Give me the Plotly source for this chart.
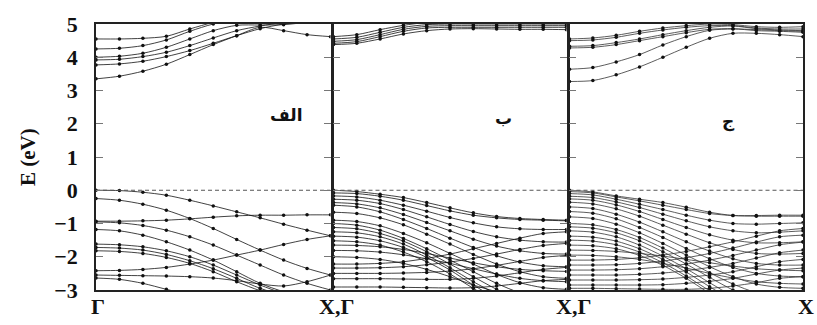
import plotly.graph_objects as go

K = [0.0, 0.1, 0.2, 0.3, 0.4, 0.5, 0.6, 0.7, 0.8, 0.9, 1.0]

# Panel 1 (الف)
P1_COND = [
    [3.35, 3.43, 3.58, 3.79, 4.08, 4.38, 4.65, 4.90, 4.80, 4.68, 4.62],
    [3.77, 3.80, 3.88, 4.02, 4.20, 4.42, 4.65, 4.86, 5.00, 5.10, 5.15],
    [3.92, 3.94, 4.02, 4.15, 4.35, 4.58, 4.80, 4.94, 5.05, 5.15, 5.20],
    [4.00, 4.03, 4.12, 4.30, 4.55, 4.80, 4.96, 4.97, 4.98, 5.05, 5.10],
    [4.25, 4.27, 4.35, 4.52, 4.78, 5.00, 5.12, 5.20, 5.20, 5.20, 5.20],
    [4.55, 4.55, 4.57, 4.63, 4.85, 5.05, 5.20, 5.25, 5.25, 5.25, 5.25],
]
P1_VAL = [
    [0.00, -0.01, -0.06, -0.15, -0.30, -0.47, -0.65, -0.83, -1.02, -1.20, -1.37],
    [-0.25, -0.30, -0.42, -0.60, -0.85, -1.15, -1.48, -1.80, -2.10, -2.35, -2.55],
    [-0.93, -0.93, -0.92, -0.90, -0.86, -0.81, -0.77, -0.75, -0.75, -0.74, -0.74],
    [-0.95, -0.98, -1.06, -1.20, -1.40, -1.65, -1.95, -2.25, -2.55, -2.80, -3.00],
    [-1.18, -1.22, -1.35, -1.55, -1.80, -2.10, -2.45, -2.80, -3.05, -3.20, -3.30],
    [-1.62, -1.64, -1.70, -1.82, -2.00, -2.25, -2.55, -2.85, -3.10, -3.20, -3.30],
    [-1.72, -1.74, -1.80, -1.93, -2.12, -2.36, -2.65, -2.95, -3.15, -3.25, -3.30],
    [-1.82, -1.84, -1.90, -2.02, -2.20, -2.45, -2.75, -3.02, -3.20, -3.30, -3.30],
    [-2.42, -2.41, -2.38, -2.32, -2.22, -2.10, -1.95, -1.80, -1.63, -1.48, -1.37],
    [-2.55, -2.56, -2.57, -2.58, -2.60, -2.64, -2.72, -2.82, -2.88, -2.75, -2.55],
    [-2.64, -2.68, -2.80, -2.98, -3.15, -3.30, -3.40, -3.40, -3.40, -3.40, -3.40],
]

# Panel 2 (ب)
P2_COND = [
    [4.38, 4.42, 4.55, 4.70, 4.80, 4.85, 4.86, 4.85, 4.84, 4.84, 4.83],
    [4.42, 4.47, 4.62, 4.78, 4.88, 4.90, 4.90, 4.90, 4.90, 4.90, 4.90],
    [4.48, 4.53, 4.68, 4.84, 4.93, 4.95, 4.95, 4.95, 4.95, 4.95, 4.95],
    [4.55, 4.60, 4.75, 4.90, 4.98, 5.00, 5.00, 5.00, 5.00, 5.00, 5.00],
    [4.62, 4.68, 4.83, 4.96, 5.05, 5.10, 5.10, 5.10, 5.10, 5.10, 5.10],
]
P2_VAL = [
    [0.00, -0.04, -0.12, -0.22, -0.37, -0.53, -0.68, -0.79, -0.85, -0.88, -0.90],
    [-0.08, -0.10, -0.18, -0.30, -0.46, -0.62, -0.75, -0.83, -0.88, -0.90, -0.92],
    [-0.17, -0.20, -0.30, -0.45, -0.63, -0.82, -0.98, -1.10, -1.16, -1.18, -1.18],
    [-0.27, -0.30, -0.40, -0.58, -0.80, -1.03, -1.24, -1.40, -1.50, -1.55, -1.56],
    [-0.37, -0.41, -0.53, -0.73, -0.97, -1.22, -1.47, -1.68, -1.82, -1.90, -1.92],
    [-0.45, -0.50, -0.65, -0.88, -1.15, -1.44, -1.72, -1.97, -2.16, -2.27, -2.30],
    [-0.66, -0.70, -0.83, -1.04, -1.32, -1.62, -1.93, -2.22, -2.45, -2.60, -2.65],
    [-0.90, -0.94, -1.07, -1.30, -1.58, -1.90, -2.22, -2.53, -2.78, -2.93, -2.98],
    [-1.00, -1.05, -1.20, -1.45, -1.76, -2.10, -2.45, -2.80, -3.08, -3.20, -3.22],
    [-1.12, -1.16, -1.30, -1.53, -1.85, -2.22, -2.60, -2.98, -3.30, -3.40, -3.40],
    [-1.25, -1.28, -1.40, -1.62, -1.95, -2.33, -2.75, -3.12, -3.40, -3.45, -3.45],
    [-1.38, -1.41, -1.52, -1.72, -2.02, -2.40, -2.85, -3.25, -3.50, -3.50, -3.50],
    [-1.52, -1.55, -1.65, -1.86, -2.15, -2.52, -2.95, -3.35, -3.50, -3.50, -3.50],
    [-1.65, -1.66, -1.70, -1.78, -1.90, -2.04, -2.18, -2.30, -2.38, -2.42, -2.44],
    [-1.81, -1.82, -1.86, -1.94, -2.06, -2.20, -2.36, -2.52, -2.65, -2.72, -2.75],
    [-2.00, -2.02, -2.08, -2.20, -2.38, -2.60, -2.85, -3.05, -3.20, -3.30, -3.30],
    [-2.22, -2.22, -2.20, -2.15, -2.05, -1.92, -1.76, -1.60, -1.44, -1.30, -1.25],
    [-2.34, -2.34, -2.33, -2.30, -2.24, -2.16, -2.05, -1.92, -1.78, -1.66, -1.60],
    [-2.50, -2.50, -2.50, -2.49, -2.47, -2.43, -2.36, -2.26, -2.14, -2.02, -1.96],
    [-2.66, -2.66, -2.66, -2.67, -2.68, -2.68, -2.65, -2.58, -2.48, -2.38, -2.32],
    [-2.91, -2.91, -2.91, -2.92, -2.93, -2.94, -2.93, -2.88, -2.80, -2.72, -2.68],
]

# Panel 3 (ج)
P3_COND = [
    [4.50, 4.52, 4.60, 4.72, 4.82, 4.90, 4.95, 4.95, 4.88, 4.85, 4.85],
    [4.55, 4.58, 4.66, 4.78, 4.88, 4.95, 5.00, 4.98, 4.92, 4.90, 4.92],
    [4.33, 4.35, 4.44, 4.55, 4.68, 4.80, 4.90, 4.94, 4.86, 4.82, 4.80],
    [4.28, 4.30, 4.38, 4.50, 4.62, 4.74, 4.84, 4.86, 4.80, 4.78, 4.75],
    [3.64, 3.69, 3.86, 4.08, 4.37, 4.62, 4.81, 4.85, 4.83, 4.80, 4.78],
    [3.27, 3.30, 3.47, 3.71, 4.00, 4.30, 4.57, 4.72, 4.72, 4.68, 4.62],
]
P3_VAL = [
    [0.00, -0.05, -0.17, -0.27, -0.37, -0.51, -0.66, -0.76, -0.78, -0.78, -0.78],
    [-0.04, -0.08, -0.20, -0.32, -0.45, -0.58, -0.70, -0.76, -0.76, -0.75, -0.75],
    [-0.10, -0.14, -0.27, -0.42, -0.58, -0.75, -0.90, -1.00, -1.02, -1.00, -0.98],
    [-0.18, -0.22, -0.35, -0.52, -0.72, -0.92, -1.10, -1.22, -1.28, -1.26, -1.22],
    [-0.26, -0.30, -0.44, -0.64, -0.88, -1.12, -1.34, -1.50, -1.58, -1.58, -1.55],
    [-0.36, -0.41, -0.56, -0.78, -1.05, -1.32, -1.58, -1.78, -1.90, -1.92, -1.90],
    [-0.50, -0.55, -0.72, -0.96, -1.25, -1.55, -1.83, -2.06, -2.20, -2.25, -2.25],
    [-0.64, -0.69, -0.86, -1.12, -1.42, -1.75, -2.06, -2.32, -2.50, -2.58, -2.60],
    [-0.80, -0.85, -1.02, -1.28, -1.60, -1.95, -2.30, -2.60, -2.82, -2.92, -2.95],
    [-1.00, -1.04, -1.18, -1.42, -1.74, -2.10, -2.48, -2.82, -3.08, -3.20, -3.25],
    [-1.10, -1.14, -1.28, -1.52, -1.85, -2.22, -2.62, -3.00, -3.30, -3.40, -3.40],
    [-1.22, -1.26, -1.40, -1.65, -1.98, -2.36, -2.78, -3.18, -3.45, -3.50, -3.50],
    [-1.38, -1.41, -1.53, -1.76, -2.08, -2.46, -2.90, -3.30, -3.50, -3.50, -3.50],
    [-1.50, -1.53, -1.64, -1.86, -2.18, -2.58, -3.02, -3.40, -3.50, -3.50, -3.50],
    [-1.65, -1.67, -1.76, -1.96, -2.26, -2.65, -3.10, -3.50, -3.50, -3.50, -3.50],
    [-1.80, -1.81, -1.84, -1.90, -1.98, -2.08, -2.18, -2.28, -2.36, -2.40, -2.42],
    [-1.95, -1.96, -2.00, -2.08, -2.20, -2.34, -2.50, -2.64, -2.75, -2.80, -2.82],
    [-2.10, -2.10, -2.08, -2.03, -1.95, -1.84, -1.70, -1.55, -1.38, -1.22, -1.15],
    [-2.25, -2.25, -2.24, -2.20, -2.13, -2.03, -1.90, -1.74, -1.56, -1.40, -1.35],
    [-2.40, -2.40, -2.39, -2.36, -2.30, -2.22, -2.10, -1.96, -1.80, -1.64, -1.56],
    [-2.55, -2.55, -2.55, -2.53, -2.49, -2.42, -2.32, -2.20, -2.04, -1.88, -1.80],
    [-2.70, -2.70, -2.70, -2.69, -2.67, -2.62, -2.55, -2.45, -2.30, -2.15, -2.08],
    [-2.85, -2.85, -2.85, -2.85, -2.84, -2.80, -2.74, -2.65, -2.52, -2.40, -2.34],
    [-2.95, -2.95, -2.96, -2.97, -2.98, -2.98, -2.95, -2.88, -2.78, -2.65, -2.60],
]

PANEL_LABELS = ["الف", "ب", "ج"]
X_LABELS = ["Γ", "X,Γ", "X,Γ", "X"]
Y_TICKS = [-3, -2, -1, 0, 1, 2, 3, 4, 5]
Y_TITLE = "E (eV)"

W, H = 817, 325
ML, MR, MT, MB = 96, 14, 16, 35
PW = W - ML - MR

fig = go.Figure()

panels = [(P1_COND + P1_VAL, "#111"), (P2_COND + P2_VAL, "#111"), (P3_COND + P3_VAL, "#333")]
gap = 3 / PW
edges = [0, 236 / PW, 472 / PW, 1]
for i, (bands, col) in enumerate(panels):
    xa = "x" if i == 0 else f"x{i+1}"
    ya = "y" if i == 0 else f"y{i+1}"
    for b in bands:
        fig.add_trace(go.Scatter(
            x=K, y=b, xaxis=xa, yaxis=ya, mode="lines+markers",
            line=dict(color=col, width=0.8, shape="spline", smoothing=0.8),
            marker=dict(color="#111", size=3.5),
            showlegend=False, hoverinfo="skip", cliponaxis=True))
    fig.add_trace(go.Scatter(
        x=[0, 1], y=[0, 0], xaxis=xa, yaxis=ya, mode="lines",
        line=dict(color="#555", width=1, dash="4px,3px"),
        showlegend=False, hoverinfo="skip"))
    d0 = edges[i] + (gap / 2 if i > 0 else 0)
    d1 = edges[i + 1] - (gap / 2 if i < 2 else 0)
    xkey = "xaxis" if i == 0 else f"xaxis{i+1}"
    ykey = "yaxis" if i == 0 else f"yaxis{i+1}"
    fig.update_layout({
        xkey: dict(domain=[d0, d1], range=[0, 1], showticklabels=False, ticks="",
                   showgrid=False, zeroline=False, showline=True, mirror=True,
                   linecolor="#222", linewidth=1.5, anchor=ya),
        ykey: dict(domain=[0, 1], range=[-3, 5], tickvals=Y_TICKS, ticks="inside",
                   ticklen=7, tickcolor="#777", tickwidth=1.2,
                   showticklabels=(i == 0), showgrid=False, zeroline=False,
                   showline=True, mirror="ticks", linecolor="#222", linewidth=1.5,
                   anchor=xa,
                   tickfont=dict(family="Liberation Serif", size=22, color="#111",
                                 weight="bold"),
                   ticklabelstandoff=12),
    })

ann = []
label_px = [(268, 110), (503, 113), (737, 116)]
for (px, py), t in zip(label_px, PANEL_LABELS):
    ann.append(dict(x=(px - ML) / PW, y=1 - (py - MT) / (H - MT - MB), xref="paper", yref="paper",
                    text=f"<b>{t}</b>", showarrow=False,
                    font=dict(family="DejaVu Sans", size=17, color="#111")))
xl_px = [98, 336, 573, 806]
for px, t in zip(xl_px, X_LABELS):
    ann.append(dict(x=(px - ML) / PW, y=-(307 - (H - MB)) / (H - MT - MB), xref="paper", yref="paper",
                    text=f"<b>{t}</b>", showarrow=False, xanchor="center", yanchor="middle",
                    font=dict(family="Liberation Serif", size=22, color="#111")))
ann.append(dict(x=(28 - ML) / PW, y=0.5, xref="paper", yref="paper", text=f"<b>{Y_TITLE}</b>",
                showarrow=False, textangle=-90, xanchor="center", yanchor="middle",
                font=dict(family="Liberation Serif", size=21, color="#111")))

fig.update_layout(width=W, height=H, margin=dict(l=ML, r=MR, t=MT, b=MB),
                  paper_bgcolor="white", plot_bgcolor="white", annotations=ann)

fig.write_html("out.html")
